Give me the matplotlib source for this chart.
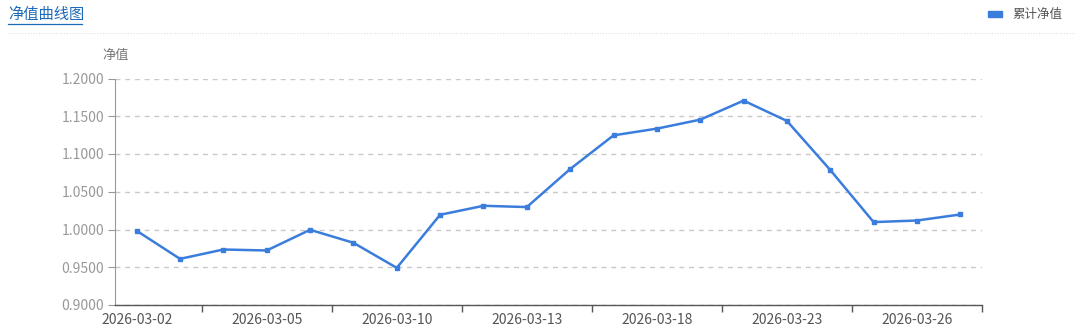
import matplotlib.pyplot as plt
from matplotlib.patches import Rectangle

plt.rcParams['font.family'] = ['Noto Sans CJK SC', 'DejaVu Sans']

# dates and net values
dates = ['2026-03-02', '2026-03-03', '2026-03-04', '2026-03-05', '2026-03-06',
         '2026-03-09', '2026-03-10', '2026-03-11', '2026-03-12', '2026-03-13',
         '2026-03-16', '2026-03-17', '2026-03-18', '2026-03-19', '2026-03-20',
         '2026-03-23', '2026-03-24', '2026-03-25', '2026-03-26', '2026-03-27']
nav = [0.9983, 0.9611, 0.9735, 0.9722, 0.9996, 0.9824, 0.9492, 1.0195, 1.0314, 1.0297,
       1.0801, 1.1247, 1.1336, 1.1455, 1.1707, 1.1438, 1.0788, 1.0098, 1.0119, 1.0199]
y_ticks = [0.90, 0.95, 1.00, 1.05, 1.10, 1.15, 1.20]

line_color = '#3b7ddd'

fig = plt.figure(figsize=(10.8, 3.31), dpi=100)
ax = fig.add_axes([115 / 1080, 1 - 305 / 331, (982 - 115) / 1080, (305 - 78.5) / 331])

x = list(range(len(dates)))
ax.plot(x, nav, color=line_color, linewidth=1.8, marker='s', markersize=3.2, zorder=3)

ax.set_xlim(-0.5, len(dates) - 0.5)
ax.set_ylim(0.9, 1.2)

# y axis
ax.set_yticks(y_ticks)
ax.set_yticklabels(['%.4f' % v for v in y_ticks])
ax.yaxis.grid(True, linestyle=(0, (3.5, 3.5)), color='#c8c8c8', linewidth=1)
ax.tick_params(axis='y', length=5, color='#999999', labelcolor='#999999', labelsize=10, pad=3)

# x axis: label every 3rd day, ticks on category boundaries
ax.set_xticks(x[::3])
ax.set_xticklabels(dates[::3])
ax.tick_params(axis='x', length=0, labelcolor='#555555', labelsize=10, pad=6)
ax.set_xticks([i + 1.5 for i in range(0, len(dates), 3)], minor=True)
ax.tick_params(axis='x', which='minor', length=5, color='#555555', width=1)

for s in ['top', 'right']:
    ax.spines[s].set_visible(False)
ax.spines['left'].set_color('#999999')
ax.spines['bottom'].set_color('#555555')
ax.spines['bottom'].set_linewidth(1)

# axis name
fig.text(116 / 1080, 1 - 55 / 331, '净值', ha='center', va='center', color='#777777', fontsize=9.5)

# header: title, legend, dotted separator
fig.text(8 / 1080, 1 - 14 / 331, '净值曲线图', ha='left', va='center', color='#1d6ab8', fontsize=11)
fig.add_artist(plt.Line2D([8 / 1080, 82 / 1080], [1 - 24 / 331, 1 - 24 / 331], color='#1d6ab8', linewidth=0.9))
fig.add_artist(plt.Line2D([8 / 1080, 1075 / 1080], [1 - 33 / 331, 1 - 33 / 331],
                          color='#e0e0e0', linewidth=0.8, linestyle=(0, (1, 1.5))))
fig.add_artist(Rectangle((988 / 1080, 1 - 17 / 331), 14 / 1080, 6 / 331,
                         transform=fig.transFigure, color=line_color))
fig.text(1012 / 1080, 1 - 14 / 331, '累计净值', ha='left', va='center', color='#555555', fontsize=9)

fig.savefig('out.png', dpi=100)
